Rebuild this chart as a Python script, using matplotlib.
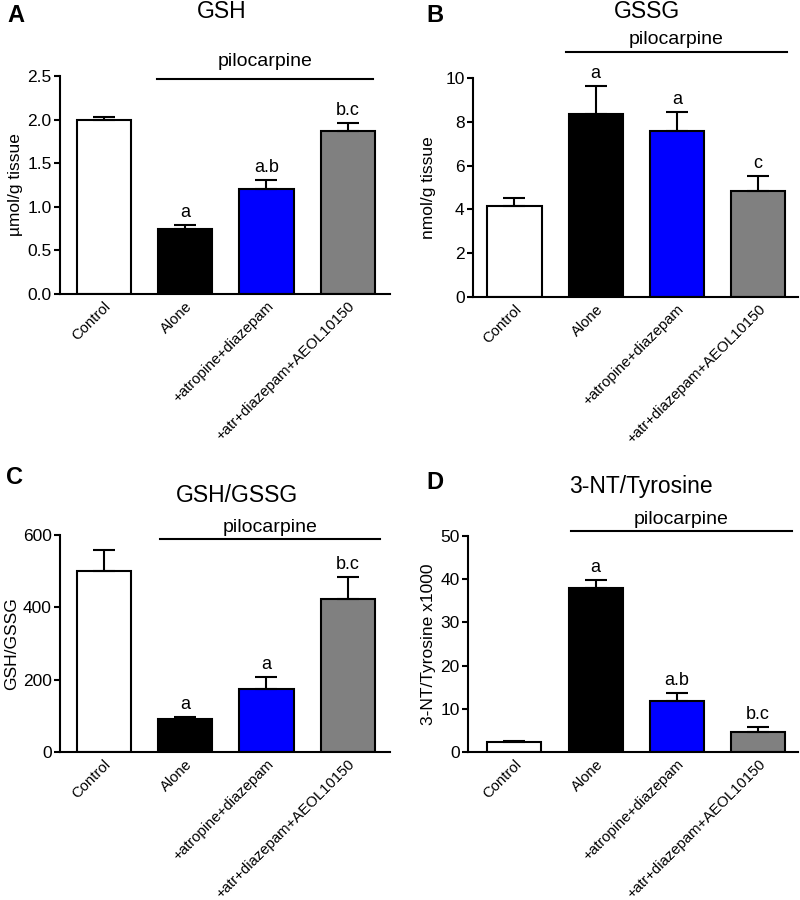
import matplotlib
matplotlib.use("Agg")
import matplotlib.pyplot as plt

plt.rcParams['font.family'] = ['Liberation Sans', 'DejaVu Sans']

# --- data ---
groups = ['Control', 'Alone', '+atropine+diazepam', '+atr+diazepam+AEOL10150']
bar_colors = ['white', 'black', '#0000ff', '#808080']

gsh = [2.00, 0.75, 1.20, 1.87]
gsh_err = [0.03, 0.04, 0.11, 0.09]
gsh_sig = ['', 'a', 'a.b', 'b.c']

gssg = [4.15, 8.36, 7.58, 4.84]
gssg_err = [0.35, 1.28, 0.87, 0.68]
gssg_sig = ['', 'a', 'a', 'c']

ratio = [500, 91, 174, 423]
ratio_err = [58, 6, 33, 61]
ratio_sig = ['', 'a', 'a', 'b.c']

nt = [2.3, 37.9, 11.8, 4.6]
nt_err = [0.2, 1.9, 1.8, 1.2]
nt_sig = ['', 'a', 'a.b', 'b.c']

W, H = 800, 900
fig = plt.figure(figsize=(8, 9), dpi=100)


def px_rect(left, right, top, bottom):
    return [left / W, 1 - bottom / H, (right - left) / W, (bottom - top) / H]


# layout of each panel in figure pixels
panels = [
    dict(letter='A', title='GSH', ylabel='\u00b5mol/g tissue', vals=gsh, errs=gsh_err, sig=gsh_sig,
         rect=px_rect(60, 390, 76, 294), xlim=(-0.54, 3.52), ylim=(0, 2.5),
         yticks=[0.0, 0.5, 1.0, 1.5, 2.0, 2.5], fmt='{:.1f}',
         letter_xy=(16, 15), title_xy=(222, 12), line_y=79, text_y=62, line_px=(157, 373), ylab_px=16),
    dict(letter='B', title='GSSG', ylabel='nmol/g tissue', vals=gssg, errs=gssg_err, sig=gssg_sig,
         rect=px_rect(473, 798, 78, 297), xlim=(-0.51, 3.49), ylim=(0, 10),
         yticks=[0, 2, 4, 6, 8, 10], fmt='{:d}',
         letter_xy=(435, 15), title_xy=(647, 12), line_y=52, text_y=40, line_px=(566, 787), ylab_px=429),
    dict(letter='C', title='GSH/GSSG', ylabel='GSH/GSSG', vals=ratio, errs=ratio_err, sig=ratio_sig,
         rect=px_rect(60, 390, 535, 752), xlim=(-0.54, 3.52), ylim=(0, 600),
         yticks=[0, 200, 400, 600], fmt='{:d}',
         letter_xy=(14, 477), title_xy=(237, 495), line_y=539, text_y=527, line_px=(160, 380), ylab_px=12),
    dict(letter='D', title='3-NT/Tyrosine', ylabel='3-NT/Tyrosine x1000', vals=nt, errs=nt_err, sig=nt_sig,
         rect=px_rect(468, 798, 536, 752), xlim=(-0.57, 3.49), ylim=(0, 50),
         yticks=[0, 10, 20, 30, 40, 50], fmt='{:d}',
         letter_xy=(435, 483), title_xy=(641, 487), line_y=531, text_y=520, line_px=(571, 792), ylab_px=428),
]

x = list(range(len(groups)))

for p in panels:
    ax = fig.add_axes(p['rect'])
    ax.bar(x, p['vals'], width=0.667, color=bar_colors, edgecolor='black', linewidth=1.5, zorder=2)
    ax.errorbar(x, p['vals'], yerr=[[0] * len(x), p['errs']], fmt='none', ecolor='black',
                elinewidth=1.5, capsize=8, capthick=1.5, zorder=3)
    for xi, v, e, s in zip(x, p['vals'], p['errs'], p['sig']):
        if s:
            ax.annotate(s, (xi, v + e), xytext=(0, 3), textcoords='offset points',
                        ha='center', va='bottom', fontsize=13)

    ax.set_xlim(*p['xlim'])
    ax.set_ylim(*p['ylim'])
    ax.set_yticks(p['yticks'])
    ax.set_yticklabels([p['fmt'].format(t) for t in p['yticks']], fontsize=12.5)
    ax.set_xticks(x)
    ax.set_xticklabels(groups, rotation=45, ha='right', rotation_mode='anchor', fontsize=10.7)
    ax.tick_params(axis='x', length=0, pad=3.5)
    ax.tick_params(axis='y', length=4.5, width=1.5, pad=1.5)
    for side in ['top', 'right']:
        ax.spines[side].set_visible(False)
    for side in ['left', 'bottom']:
        ax.spines[side].set_linewidth(1.5)

    # y label placed by figure pixel position
    y_mid = 1 - (p['rect'][1] + p['rect'][3] / 2)
    fig.text(p['ylab_px'] / W, 1 - y_mid, p['ylabel'], rotation=90, ha='center', va='center', fontsize=12.5)

    # pilocarpine bracket line and label
    lx0, lx1 = p['line_px']
    fig.add_artist(plt.Line2D([lx0 / W, lx1 / W], [1 - p['line_y'] / H] * 2, color='black', linewidth=1.5))
    fig.text((lx0 + lx1) / 2 / W, 1 - p['text_y'] / H, 'pilocarpine', ha='center', va='center', fontsize=14)

    fig.text(p['title_xy'][0] / W, 1 - p['title_xy'][1] / H, p['title'], ha='center', va='center', fontsize=16.5)
    fig.text(p['letter_xy'][0] / W, 1 - p['letter_xy'][1] / H, p['letter'], ha='center', va='center',
             fontsize=17, fontweight='bold')

fig.savefig('out.png', dpi=100)
